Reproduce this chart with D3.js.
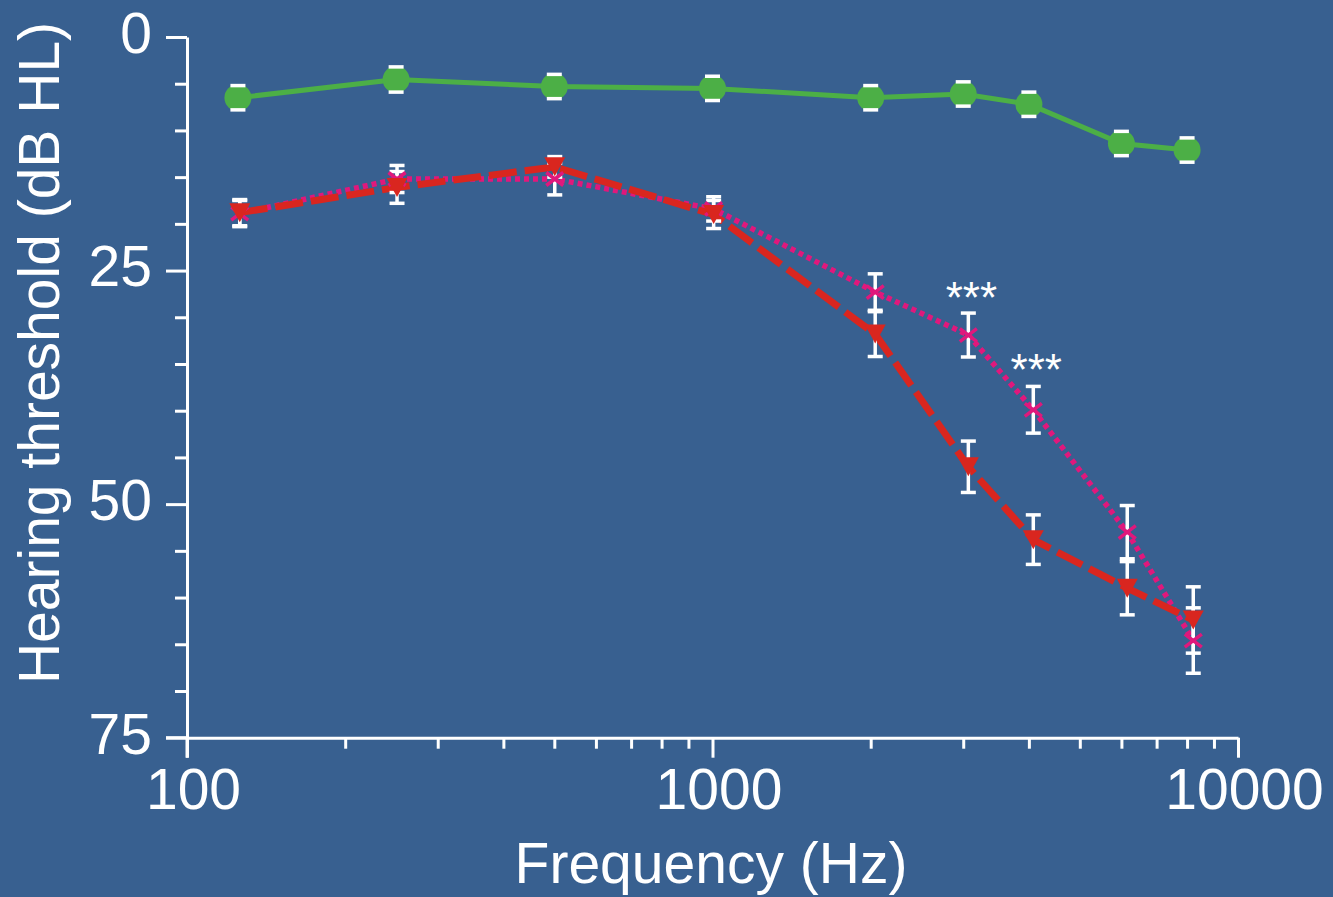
<!DOCTYPE html>
<html><head><meta charset="utf-8">
<script src="https://cdn.jsdelivr.net/npm/d3@7"></script>
<style>html,body{margin:0;padding:0;background:#386090;} svg{display:block;}</style>
</head><body><svg id="chart" width="1333" height="897"></svg>
<script>
// ---- data ----
const freqControl = [125, 250, 500, 1000, 2000, 3000, 4000, 6000, 8000];
const freqHL      = [126, 251, 501, 1005, 2040, 3068, 4078, 6155, 8220];
const controlVals = [6.5, 4.55, 5.3, 5.5, 6.5, 6.1, 7.2, 11.4, 12.1];
const controlErr  = [1.3, 1.35, 1.3, 1.3, 1.3, 1.3, 1.3, 1.3, 1.3];
const redVals     = [18.8, 16.1, 13.9, 19.0, 31.8, 46.0, 53.8, 59.0, 62.4];
const redErr      = [1.4, 1.7, 1.1, 1.5, 2.4, 2.75, 2.65, 2.85, 3.55];
const pinkVals    = [18.9, 15.2, 15.2, 18.4, 27.3, 31.9, 39.9, 53.0, 64.6];
const pinkErr     = [1.4, 1.45, 1.7, 1.3, 1.95, 2.35, 2.5, 2.85, 3.5];
const xMajorTicks = [100, 1000, 10000];
const xMinorTicks = [200,300,400,500,600,700,800,900,2000,3000,4000,5000,6000,7000,8000,9000];
const yMajorTicks = [0, 25, 50, 75];
const yMinorTicks = [5,10,15,20,30,35,40,45,55,60,65,70];
const annotFreq   = [3068, 4078];
const annotVals   = [29.5, 37.3];
const annotText   = ["***", "***"];
const xTitle = "Frequency (Hz)";
const yTitle = "Hearing threshold (dB HL)";

(function () {
// ---- layout ----
const W = 1333, H = 897;
const pLeft = 187, pRight = 1238, pTop = 37, pBottom = 737.7;
const BG = "#386090", GREEN = "#4caf46", RED = "#d9261f", PINK = "#e0187c", WHITE = "#ffffff";
const FONT = "'Liberation Sans', Arial, sans-serif";

const svg = d3.select("#chart");
svg.append("rect").attr("width", W).attr("height", H).attr("fill", BG);

const x = d3.scaleLog().domain([100, 10000]).range([pLeft, pRight]);
const y = d3.scaleLinear().domain([0, 75]).range([pTop, pBottom]);

// axes
const gx = svg.append("g").attr("transform", `translate(0,${pBottom})`);
gx.call(d3.axisBottom(x).tickValues(xMinorTicks).tickSize(11).tickFormat(""));
gx.select(".domain").remove();
const gx2 = svg.append("g").attr("transform", `translate(0,${pBottom})`);
gx2.call(d3.axisBottom(x).tickValues(xMajorTicks).tickSize(20).tickSizeOuter(0).tickFormat(d3.format("d")).tickPadding(10));
[gx, gx2].forEach(g => {
  g.selectAll("line").attr("stroke", WHITE).attr("stroke-width", 3);
  g.selectAll(".domain").attr("stroke", WHITE).attr("stroke-width", 3);
});
gx2.selectAll("text").attr("fill", WHITE).style("font-family", FONT).style("font-size", "57px")
  .attr("dx", 6).attr("dy", "0.72em");

const gy = svg.append("g").attr("transform", `translate(${pLeft},0)`);
gy.call(d3.axisLeft(y).tickValues(yMinorTicks).tickSize(12).tickFormat(""));
gy.select(".domain").remove();
const gy2 = svg.append("g").attr("transform", `translate(${pLeft},0)`);
gy2.call(d3.axisLeft(y).tickValues(yMajorTicks).tickSize(21).tickSizeOuter(0).tickPadding(14));
[gy, gy2].forEach(g => {
  g.selectAll("line").attr("stroke", WHITE).attr("stroke-width", 3);
  g.selectAll(".domain").attr("stroke", WHITE).attr("stroke-width", 3);
});
gy2.selectAll("text").attr("fill", WHITE).style("font-family", FONT).style("font-size", "57px")
  .attr("dy", "0.27em");
svg.append("line").attr("x1", x(100)).attr("x2", x(100)).attr("y1", y(75)).attr("y2", y(75) + 20)
  .attr("stroke", WHITE).attr("stroke-width", 3);
svg.append("line").attr("x1", pLeft - 21).attr("x2", pLeft).attr("y1", y(75)).attr("y2", y(75))
  .attr("stroke", WHITE).attr("stroke-width", 3);

// titles
svg.append("text").attr("x", 711).attr("y", 883).attr("text-anchor", "middle")
  .attr("fill", WHITE).style("font-family", FONT).style("font-size", "57px").text(xTitle);
svg.append("text").attr("transform", "translate(59,353) rotate(-90)").attr("text-anchor", "middle")
  .attr("fill", WHITE).style("font-family", FONT).style("font-size", "57px").text(yTitle);

// series
const mk = (fr, vals, errs) => fr.map((f, i) => ({f, v: vals[i], e: errs[i]}));
const control = mk(freqControl, controlVals, controlErr);
const red = mk(freqHL, redVals, redErr);
const pink = mk(freqHL, pinkVals, pinkErr);
const line = d3.line().x(d => x(d.f)).y(d => y(d.v));

svg.append("path").datum(control).attr("d", line).attr("fill", "none")
  .attr("stroke", GREEN).attr("stroke-width", 5);
svg.append("path").datum(pink).attr("d", line).attr("fill", "none")
  .attr("stroke", PINK).attr("stroke-width", 5.5).attr("stroke-dasharray", "5,4");
svg.append("path").datum(red).attr("d", line).attr("fill", "none")
  .attr("stroke", RED).attr("stroke-width", 7).attr("stroke-dasharray", "28,8");

const cw = 7.5;
function stems(data, g) {
  data.forEach(d => {
    const cx = x(d.f);
    g.append("line").attr("x1", cx).attr("x2", cx).attr("y1", y(d.v - d.e)).attr("y2", y(d.v + d.e));
  });
}
function caps(data, g) {
  data.forEach(d => {
    const cx = x(d.f), y1 = y(d.v - d.e), y2 = y(d.v + d.e);
    g.append("line").attr("x1", cx - cw).attr("x2", cx + cw).attr("y1", y1).attr("y2", y1);
    g.append("line").attr("x1", cx - cw).attr("x2", cx + cw).attr("y1", y2).attr("y2", y2);
  });
}
const errG = () => svg.append("g").attr("stroke", WHITE).attr("stroke-width", 3.5);

// control: stems under the circles, caps over them
stems(control, errG());
svg.append("g").selectAll("circle").data(control).join("circle")
  .attr("cx", d => x(d.f)).attr("cy", d => y(d.v)).attr("r", 13.5).attr("fill", GREEN);
caps(control, errG());

// hearing-loss groups: full bars, markers above
const gb = errG(); stems(pink, gb); caps(pink, gb); stems(red, gb); caps(red, gb);

// pink X markers
const gp = svg.append("g").attr("stroke", PINK).attr("stroke-width", 3.5);
pink.forEach(d => {
  const cx = x(d.f), cy = y(d.v);
  gp.append("line").attr("x1", cx - 8.5).attr("y1", cy - 6.5).attr("x2", cx + 8.5).attr("y2", cy + 6.5);
  gp.append("line").attr("x1", cx - 8.5).attr("y1", cy + 6.5).attr("x2", cx + 8.5).attr("y2", cy - 6.5);
});
// red down-triangles
svg.append("g").selectAll("path").data(red).join("path")
  .attr("d", d => { const cx = x(d.f), cy = y(d.v);
    return `M${cx - 10.5},${cy - 9.5}L${cx + 10.5},${cy - 9.5}L${cx},${cy + 9.5}Z`; })
  .attr("fill", RED);

// annotations
annotFreq.forEach((f, i) => {
  svg.append("text").attr("x", x(f) + 3).attr("y", y(annotVals[i])).attr("text-anchor", "middle")
    .attr("fill", WHITE).style("font-family", FONT).style("font-size", "44px").text(annotText[i]);
});
})();
</script></body></html>
